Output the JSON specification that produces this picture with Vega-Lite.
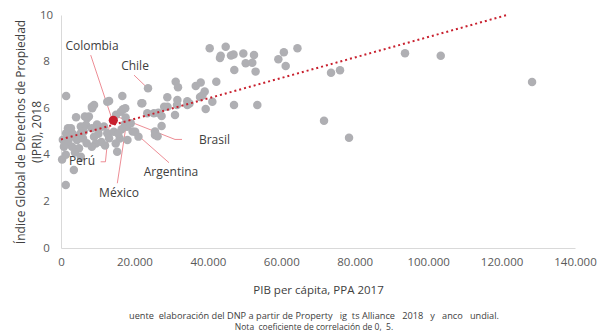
{
  "$schema": "https://vega.github.io/schema/vega-lite/v6.json",
  "width": 514,
  "height": 233,
  "autosize": {"type": "none"},
  "padding": {"left": 61, "top": 15, "right": 24, "bottom": 84},
  "background": "white",
  "config": {
    "view": {"stroke": null},
    "font": "Open Sans",
    "axis": {"labelFont": "Open Sans", "titleFont": "Open Sans"}
  },
  "title": {
    "text": "\u00a0 uente\u00a0 elaboración del DNP a partir de Property \u00a0 ig\u00a0 ts Alliance\u00a0 \u00a02018\u00a0 \u00a0y \u00a0 anco \u00a0 undial.",
    "subtitle": "Nota\u00a0 coeficiente de correlación de 0,\u00a0 5.",
    "orient": "bottom",
    "anchor": "middle",
    "fontSize": 9.2,
    "fontWeight": "normal",
    "color": "#404040",
    "subtitleFontSize": 8.5,
    "subtitleColor": "#404040",
    "subtitlePadding": 2,
    "offset": 16,
    "dx": -4
  },
  "datasets": {
    "pts": [
      {"pib": 300, "ipri": 3.8}, {"pib": 500, "ipri": 4.65}, {"pib": 1300, "ipri": 4.0}, {"pib": 800, "ipri": 4.35},
      {"pib": 1400, "ipri": 6.52}, {"pib": 1300, "ipri": 2.7}, {"pib": 3500, "ipri": 3.35}, {"pib": 1400, "ipri": 4.92},
      {"pib": 1900, "ipri": 5.14}, {"pib": 2700, "ipri": 5.14}, {"pib": 2200, "ipri": 4.99}, {"pib": 2700, "ipri": 4.78},
      {"pib": 3000, "ipri": 4.35}, {"pib": 4900, "ipri": 4.28}, {"pib": 5400, "ipri": 3.92}, {"pib": 4100, "ipri": 5.61},
      {"pib": 5400, "ipri": 5.21}, {"pib": 5400, "ipri": 4.92}, {"pib": 6500, "ipri": 5.64}, {"pib": 7100, "ipri": 5.57},
      {"pib": 6800, "ipri": 5.28}, {"pib": 7600, "ipri": 5.64}, {"pib": 8400, "ipri": 6.06}, {"pib": 9000, "ipri": 6.14},
      {"pib": 8500, "ipri": 6.0}, {"pib": 8400, "ipri": 5.14}, {"pib": 9000, "ipri": 4.78}, {"pib": 9500, "ipri": 4.49},
      {"pib": 8400, "ipri": 4.35}, {"pib": 4400, "ipri": 4.64}, {"pib": 3800, "ipri": 4.1}, {"pib": 1000, "ipri": 4.45},
      {"pib": 2000, "ipri": 4.6}, {"pib": 6000, "ipri": 4.7}, {"pib": 7000, "ipri": 4.5}, {"pib": 10400, "ipri": 5.14},
      {"pib": 11700, "ipri": 5.21}, {"pib": 12600, "ipri": 4.92}, {"pib": 13100, "ipri": 4.71}, {"pib": 11000, "ipri": 4.55},
      {"pib": 10200, "ipri": 4.9}, {"pib": 12000, "ipri": 4.4}, {"pib": 3200, "ipri": 4.9}, {"pib": 6200, "ipri": 5.0},
      {"pib": 9800, "ipri": 5.3},
      {"pib": 13100, "ipri": 6.31}, {"pib": 12600, "ipri": 6.28}, {"pib": 16700, "ipri": 6.52}, {"pib": 16900, "ipri": 5.95},
      {"pib": 15000, "ipri": 5.72}, {"pib": 16300, "ipri": 5.85}, {"pib": 17500, "ipri": 6.0}, {"pib": 14400, "ipri": 4.99},
      {"pib": 14900, "ipri": 4.49}, {"pib": 15300, "ipri": 4.13}, {"pib": 16000, "ipri": 4.7}, {"pib": 17400, "ipri": 5.32},
      {"pib": 18000, "ipri": 5.2}, {"pib": 18100, "ipri": 4.64}, {"pib": 20200, "ipri": 4.99}, {"pib": 21100, "ipri": 4.78},
      {"pib": 16500, "ipri": 5.1}, {"pib": 19000, "ipri": 5.35}, {"pib": 21900, "ipri": 6.21}, {"pib": 17600, "ipri": 5.6},
      {"pib": 15600, "ipri": 4.9}, {"pib": 19500, "ipri": 5.0},
      {"pib": 23700, "ipri": 6.86}, {"pib": 22150, "ipri": 6.21}, {"pib": 23500, "ipri": 5.78}, {"pib": 25300, "ipri": 5.78},
      {"pib": 25600, "ipri": 5.0}, {"pib": 25600, "ipri": 4.85}, {"pib": 26300, "ipri": 4.8}, {"pib": 27400, "ipri": 5.24},
      {"pib": 27400, "ipri": 5.67}, {"pib": 28100, "ipri": 6.06}, {"pib": 29000, "ipri": 6.06}, {"pib": 28960, "ipri": 6.47},
      {"pib": 31050, "ipri": 5.71}, {"pib": 31600, "ipri": 6.14}, {"pib": 31700, "ipri": 6.35}, {"pib": 34400, "ipri": 6.14},
      {"pib": 34400, "ipri": 6.3}, {"pib": 31240, "ipri": 7.14}, {"pib": 31870, "ipri": 6.9}, {"pib": 36700, "ipri": 6.95},
      {"pib": 38050, "ipri": 7.1}, {"pib": 39140, "ipri": 6.72}, {"pib": 37870, "ipri": 6.48}, {"pib": 38500, "ipri": 6.55},
      {"pib": 41220, "ipri": 6.28}, {"pib": 39410, "ipri": 5.97}, {"pib": 42300, "ipri": 7.14}, {"pib": 47120, "ipri": 6.14},
      {"pib": 53470, "ipri": 6.14}, {"pib": 26500, "ipri": 5.8}, {"pib": 35000, "ipri": 6.2},
      {"pib": 40500, "ipri": 8.57}, {"pib": 44860, "ipri": 8.64}, {"pib": 43300, "ipri": 8.15}, {"pib": 43500, "ipri": 8.25},
      {"pib": 46300, "ipri": 8.26}, {"pib": 47000, "ipri": 8.3}, {"pib": 49660, "ipri": 8.35}, {"pib": 52570, "ipri": 8.28},
      {"pib": 50300, "ipri": 7.93}, {"pib": 52100, "ipri": 7.95}, {"pib": 47200, "ipri": 7.64}, {"pib": 53000, "ipri": 7.57},
      {"pib": 59200, "ipri": 8.1}, {"pib": 60700, "ipri": 8.4}, {"pib": 61200, "ipri": 7.81}, {"pib": 64400, "ipri": 8.57},
      {"pib": 71640, "ipri": 5.46}, {"pib": 73550, "ipri": 7.52}, {"pib": 76000, "ipri": 7.63}, {"pib": 78450, "ipri": 4.73},
      {"pib": 93700, "ipri": 8.36}, {"pib": 103430, "ipri": 8.25}, {"pib": 128300, "ipri": 7.12}
    ],
    "trend": [{"pib": 0, "ipri": 4.66}, {"pib": 121500, "ipri": 10}],
    "colombia": [{"pib": 14250, "ipri": 5.48}],
    "leaders": [
      {"x1": 8090, "y1": 8.28, "x2": 13700, "y2": 5.62},
      {"x1": 19890, "y1": 7.42, "x2": 23000, "y2": 6.95},
      {"x1": 15250, "y1": 5.64, "x2": 31050, "y2": 4.66},
      {"x1": 31050, "y1": 4.66, "x2": 32960, "y2": 4.66},
      {"x1": 29420, "y1": 3.66, "x2": 20350, "y2": 4.92},
      {"x1": 15340, "y1": 2.78, "x2": 17620, "y2": 5.14},
      {"x1": 10800, "y1": 3.7, "x2": 12100, "y2": 3.7},
      {"x1": 12100, "y1": 3.7, "x2": 13080, "y2": 5.2}
    ],
    "labels": [
      {"pib": 8440, "ipri": 8.67, "name": "Colombia"},
      {"pib": 20160, "ipri": 7.81, "name": "Chile"},
      {"pib": 41800, "ipri": 4.64, "name": "Brasil"},
      {"pib": 29960, "ipri": 3.26, "name": "Argentina"},
      {"pib": 15800, "ipri": 2.36, "name": "México"},
      {"pib": 5720, "ipri": 3.73, "name": "Perú"}
    ]
  },
  "layer": [
    {
      "data": {"name": "leaders"},
      "mark": {"type": "rule", "color": "#e8707a", "strokeWidth": 0.8},
      "encoding": {
        "x": {"field": "x1", "type": "quantitative"},
        "y": {"field": "y1", "type": "quantitative"},
        "x2": {"field": "x2"},
        "y2": {"field": "y2"}
      }
    },
    {
      "data": {"name": "pts"},
      "mark": {"type": "circle", "size": 72, "color": "#afafb3", "opacity": 1},
      "encoding": {
        "x": {
          "field": "pib", "type": "quantitative",
          "scale": {"domain": [0, 140000], "nice": false, "zero": true},
          "axis": {
            "title": "PIB per cápita, PPA 2017",
            "values": [0, 20000, 40000, 60000, 80000, 100000, 120000, 140000],
            "labelExpr": "replace(format(datum.value, ','), ',', '.')",
            "grid": false, "ticks": false, "tickSize": 0,
            "domainColor": "#d9d9d9", "domainWidth": 1,
            "labelColor": "#595959", "labelFontSize": 11.5, "labelPadding": 8,
            "labelFlush": false,
            "titleColor": "#404040", "titleFontSize": 11.5, "titleFontWeight": "normal",
            "titleX": 257, "titleY": 42, "titleBaseline": "middle"
          }
        },
        "y": {
          "field": "ipri", "type": "quantitative",
          "scale": {"domain": [0, 10], "nice": false},
          "axis": {
            "title": ["Índice Global de Derechos de Propiedad", "(IPRI), 2018"],
            "values": [0, 2, 4, 6, 8, 10],
            "grid": false, "ticks": false, "tickSize": 0,
            "domainColor": "#d9d9d9", "domainWidth": 1,
            "labelColor": "#595959", "labelFontSize": 11.5, "labelPadding": 15,
            "labelAlign": "center",
            "titleColor": "#404040", "titleFontSize": 12, "titleFontWeight": "normal",
            "titleLineHeight": 16,
            "titleX": -41, "titleY": 116.5, "titleAngle": -90,
            "titleAlign": "center", "titleBaseline": "middle"
          }
        }
      }
    },
    {
      "data": {"name": "trend"},
      "mark": {"type": "line", "color": "#c8202e", "strokeWidth": 2, "strokeDash": [2, 3]},
      "encoding": {
        "x": {"field": "pib", "type": "quantitative"},
        "y": {"field": "ipri", "type": "quantitative"}
      }
    },
    {
      "data": {"name": "colombia"},
      "mark": {"type": "circle", "size": 85, "color": "#c8202e", "opacity": 1},
      "encoding": {
        "x": {"field": "pib", "type": "quantitative"},
        "y": {"field": "ipri", "type": "quantitative"}
      }
    },
    {
      "data": {"name": "labels"},
      "mark": {"type": "text", "fontSize": 12, "color": "#404040", "align": "center", "baseline": "middle", "font": "Open Sans"},
      "encoding": {
        "x": {"field": "pib", "type": "quantitative"},
        "y": {"field": "ipri", "type": "quantitative"},
        "text": {"field": "name"}
      }
    }
  ]
}
